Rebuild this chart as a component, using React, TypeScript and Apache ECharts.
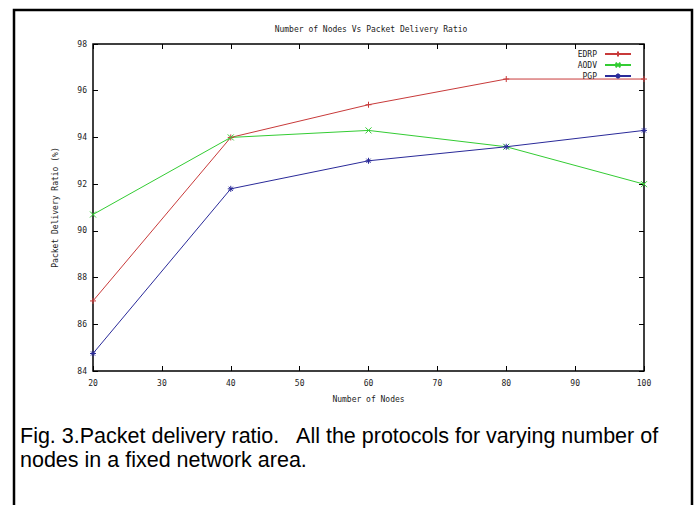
import React, { useEffect, useRef } from "react";
import * as echarts from "echarts";

const nodes = [20, 40, 60, 80, 100];
const edrp = [87.0, 94.0, 95.4, 96.5, 96.5];
const aodv = [90.7, 94.0, 94.3, 93.6, 92.0];
const pgp = [84.75, 91.8, 93.0, 93.6, 94.3];
const seriesNames = ["EDRP", "AODV", "PGP"];
const seriesColors = ["#c83a3a", "#33cc33", "#2a2a99"];
const titleText = "Number of Nodes Vs Packet Delivery Ratio";
const xName = "Number of Nodes";
const yName = "Packet Delivery Ratio (%)";
const captionLines = [
  "Fig. 3.Packet delivery ratio.   All the protocols for varying number of",
  "nodes in a fixed network area.",
];

const PLUS = "path://M0,5L10,5M5,0L5,10";
const CROSS = "path://M1,1L9,9M9,1L1,9";
const STAR = "path://M0,5L10,5M5,0L5,10M1.5,1.5L8.5,8.5M8.5,1.5L1.5,8.5";
const symbols = [PLUS, CROSS, STAR];

const mono = "DejaVu Sans Mono";

export default function App() {
  const ref = useRef<HTMLDivElement>(null);
  useEffect(() => {
    if (!ref.current) return;
    const chart = echarts.init(ref.current, null, { renderer: "svg" });
    const datas = [edrp, aodv, pgp];
    const axisCommon = {
      type: "value" as const,
      axisLine: { show: false },
      axisTick: { show: true, inside: true, length: 5, lineStyle: { color: "#000", width: 1 } },
      splitLine: { show: false },
    };
    chart.setOption({
      animation: false,
      backgroundColor: "#fff",
      title: {
        text: titleText,
        left: 366,
        top: 20,
        textAlign: "center",
        textStyle: { fontFamily: mono, fontSize: 8, fontWeight: "normal", color: "#222" },
      },
      grid: {
        left: 93,
        top: 44,
        right: 55,
        bottom: 134,
        show: true,
        borderColor: "#000",
        borderWidth: 1.5,
        backgroundColor: "transparent",
      },
      legend: {
        orient: "vertical",
        align: "right",
        right: 62,
        top: 45,
        itemWidth: 26,
        itemHeight: 6,
        itemGap: 3,
        data: seriesNames,
        textStyle: { fontFamily: mono, fontSize: 8, color: "#222", padding: [0, 3, 0, 0] },
      },
      xAxis: [
        {
          ...axisCommon,
          min: 20,
          max: 100,
          interval: 10,
          name: xName,
          nameLocation: "middle",
          nameGap: 24,
          nameTextStyle: { fontFamily: mono, fontSize: 8, color: "#222" },
          axisLabel: { fontFamily: mono, fontSize: 8, color: "#222", margin: 8 },
        },
        {
          ...axisCommon,
          position: "top",
          min: 20,
          max: 100,
          interval: 10,
          axisLabel: { show: false },
        },
      ],
      yAxis: [
        {
          ...axisCommon,
          min: 84,
          max: 98,
          interval: 2,
          name: yName,
          nameLocation: "middle",
          nameGap: 34,
          nameRotate: 90,
          nameTextStyle: { fontFamily: mono, fontSize: 8, color: "#222" },
          axisLabel: { fontFamily: mono, fontSize: 8, color: "#222", margin: 6 },
        },
        {
          ...axisCommon,
          position: "right",
          min: 84,
          max: 98,
          interval: 2,
          axisLabel: { show: false },
        },
      ],
      series: seriesNames.map((name, i) => ({
        name,
        type: "line",
        xAxisIndex: 0,
        yAxisIndex: 0,
        data: nodes.map((n, j) => [n, datas[i][j]]),
        symbol: symbols[i],
        symbolSize: 6,
        showAllSymbol: true,
        lineStyle: { color: seriesColors[i], width: 1 },
        itemStyle: { color: seriesColors[i], borderColor: seriesColors[i], borderWidth: 1 },
        emphasis: { disabled: true },
        clip: false,
      })),
      graphic: [
        {
          type: "rect",
          shape: { x: 14, y: 10, width: 678, height: 520 },
          style: { fill: "none", stroke: "#000", lineWidth: 2.5 },
          silent: true,
        },
        {
          type: "text",
          left: 20,
          top: 424,
          style: {
            text: captionLines.join("\n"),
            font: "21.5px 'Liberation Sans'",
            lineHeight: 24,
            fill: "#000",
          },
        },
      ],
    });
    return () => chart.dispose();
  }, []);
  return (
    <div
      ref={ref}
      style={{ position: "absolute", left: 0, top: 0, width: 699, height: 505 }}
    />
  );
}
